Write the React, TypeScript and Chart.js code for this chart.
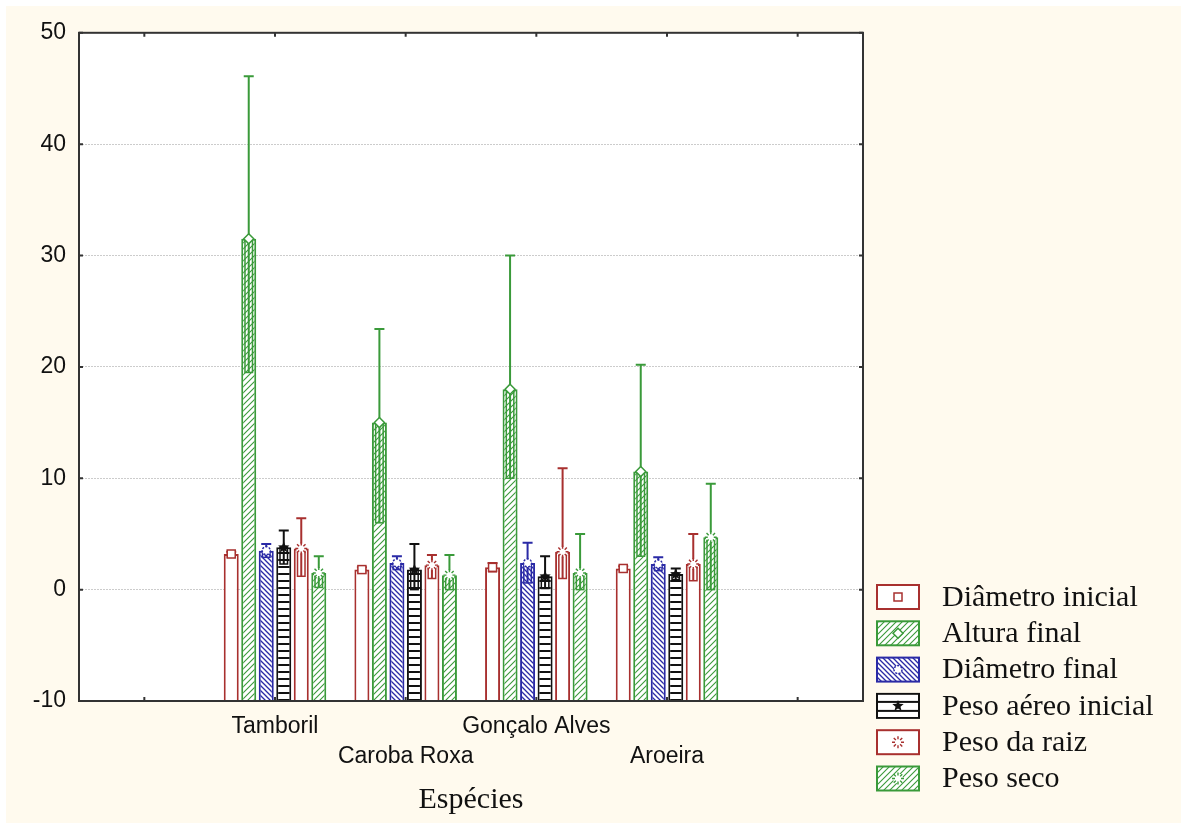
import React, { useEffect, useRef } from "react";
import { Chart, registerables } from "chart.js";

Chart.register(...registerables);

// ---------- data ----------
const categories = ["", "Tamboril", "Caroba Roxa", "Gonçalo Alves", "Aroeira", ""];
const seriesNames = [
  "Diâmetro inicial",
  "Altura final",
  "Diâmetro final",
  "Peso aéreo inicial",
  "Peso da raiz",
  "Peso seco",
];

const diametroInicialMean = [null, 3.2, 1.8, 2.0, 1.9, null];
const diametroInicialHigh = [null, 3.4, 2.0, 2.4, 2.1, null];
const diametroInicialLow = [null, 2.9, 1.5, 1.6, 1.6, null];

const alturaFinalMean = [null, 31.5, 15.0, 18.0, 10.6, null];
const alturaFinalHigh = [null, 46.1, 23.4, 30.0, 20.2, null];
const alturaFinalLow = [null, 19.5, 6.0, 10.0, 3.0, null];

const diametroFinalMean = [null, 3.5, 2.4, 2.4, 2.3, null];
const diametroFinalHigh = [null, 4.1, 3.0, 4.2, 2.9, null];
const diametroFinalLow = [null, 2.9, 1.8, 0.6, 1.7, null];

const pesoAereoMean = [null, 3.8, 1.8, 1.2, 1.4, null];
const pesoAereoHigh = [null, 5.3, 4.1, 3.0, 1.9, null];
const pesoAereoLow = [null, 2.3, 0.0, 0.1, 0.9, null];

const pesoRaizMean = [null, 3.7, 2.2, 3.4, 2.3, null];
const pesoRaizHigh = [null, 6.4, 3.1, 10.9, 5.0, null];
const pesoRaizLow = [null, 1.2, 1.0, 1.0, 0.8, null];

const pesoSecoMean = [null, 1.5, 1.3, 1.5, 4.7, null];
const pesoSecoHigh = [null, 3.0, 3.1, 5.0, 9.5, null];
const pesoSecoLow = [null, 0.2, 0.0, 0.0, 0.0, null];

const yTicks = [-10, 0, 10, 20, 30, 40, 50];
const xTitle = "Espécies";

// ---------- styles ----------
const RED = "#a8302f";
const GREEN = "#3a9a3a";
const BLUE = "#2a2aa6";
const BLACK = "#111111";
const CREAM = "#fffaee";

type Kind = "none" | "slash" | "backslash" | "hlines";
type Mark = "square" | "diamond" | "circle" | "star" | "burst" | "sun";

const seriesStyle: { color: string; fill: Kind; mark: Mark }[] = [
  { color: RED, fill: "none", mark: "square" },
  { color: GREEN, fill: "slash", mark: "diamond" },
  { color: BLUE, fill: "backslash", mark: "circle" },
  { color: BLACK, fill: "hlines", mark: "star" },
  { color: RED, fill: "none", mark: "burst" },
  { color: GREEN, fill: "slash", mark: "sun" },
];

const means = [diametroInicialMean, alturaFinalMean, diametroFinalMean, pesoAereoMean, pesoRaizMean, pesoSecoMean];
const highs = [diametroInicialHigh, alturaFinalHigh, diametroFinalHigh, pesoAereoHigh, pesoRaizHigh, pesoSecoHigh];
const lows = [diametroInicialLow, alturaFinalLow, diametroFinalLow, pesoAereoLow, pesoRaizLow, pesoSecoLow];

function makePattern(kind: Kind, color: string): CanvasPattern | string {
  if (kind === "none") return "#ffffff";
  const c = document.createElement("canvas");
  const ctx = c.getContext("2d")!;
  if (kind === "hlines") {
    c.width = 8;
    c.height = 7;
    ctx.fillStyle = "#ffffff";
    ctx.fillRect(0, 0, 8, 7);
    ctx.fillStyle = color;
    ctx.fillRect(0, 0, 8, 2);
  } else {
    const s = kind === "slash" ? 6 : 5;
    c.width = s;
    c.height = s;
    ctx.fillStyle = "#ffffff";
    ctx.fillRect(0, 0, s, s);
    ctx.strokeStyle = color;
    ctx.lineWidth = kind === "slash" ? 1.1 : 1.3;
    ctx.beginPath();
    if (kind === "slash") {
      ctx.moveTo(-1, s + 1);
      ctx.lineTo(s + 1, -1);
      ctx.moveTo(-1, 1);
      ctx.lineTo(1, -1);
      ctx.moveTo(s - 1, s + 1);
      ctx.lineTo(s + 1, s - 1);
    } else {
      ctx.moveTo(-1, -1);
      ctx.lineTo(s + 1, s + 1);
      ctx.moveTo(s - 1, -1);
      ctx.lineTo(s + 1, 1);
      ctx.moveTo(-1, s - 1);
      ctx.lineTo(1, s + 1);
    }
    ctx.stroke();
  }
  return ctx.createPattern(c, "repeat")!;
}

function drawMarker(ctx: CanvasRenderingContext2D, mark: Mark, x: number, y: number, color: string) {
  ctx.save();
  ctx.lineWidth = 1.5;
  ctx.strokeStyle = color;
  ctx.fillStyle = "#ffffff";
  switch (mark) {
    case "square":
      ctx.fillRect(x - 4, y - 4, 8, 8);
      ctx.strokeRect(x - 4, y - 4, 8, 8);
      break;
    case "diamond":
      ctx.beginPath();
      ctx.moveTo(x, y - 5);
      ctx.lineTo(x + 5, y);
      ctx.lineTo(x, y + 5);
      ctx.lineTo(x - 5, y);
      ctx.closePath();
      ctx.fill();
      ctx.stroke();
      break;
    case "circle":
      ctx.beginPath();
      ctx.arc(x, y, 4, 0, Math.PI * 2);
      ctx.fill();
      ctx.setLineDash([2, 1.5]);
      ctx.stroke();
      break;
    case "star": {
      ctx.fillStyle = color;
      ctx.beginPath();
      for (let k = 0; k < 10; k++) {
        const r = k % 2 === 0 ? 6 : 2.6;
        const a = -Math.PI / 2 + (k * Math.PI) / 5;
        const px = x + r * Math.cos(a);
        const py = y + r * Math.sin(a);
        if (k === 0) ctx.moveTo(px, py);
        else ctx.lineTo(px, py);
      }
      ctx.closePath();
      ctx.fill();
      break;
    }
    case "burst":
    case "sun": {
      ctx.beginPath();
      ctx.arc(x, y, 5, 0, Math.PI * 2);
      ctx.fill();
      ctx.lineWidth = 1.4;
      ctx.beginPath();
      for (let k = 0; k < 8; k++) {
        const a = (k * Math.PI) / 4;
        ctx.moveTo(x + 3 * Math.cos(a), y + 3 * Math.sin(a));
        ctx.lineTo(x + 6 * Math.cos(a), y + 6 * Math.sin(a));
      }
      ctx.stroke();
      break;
    }
  }
  ctx.restore();
}

export default function App() {
  const ref = useRef<HTMLCanvasElement>(null);

  useEffect(() => {
    const canvas = ref.current!;
    const fills = seriesStyle.map((s) => makePattern(s.fill, s.color));

    const bgPlugin = {
      id: "bg",
      beforeDraw(chart: any) {
        const { ctx, chartArea } = chart;
        ctx.save();
        ctx.fillStyle = CREAM;
        ctx.fillRect(0, 0, chart.width, chart.height);
        ctx.fillStyle = "#ffffff";
        ctx.fillRect(chartArea.left, chartArea.top, chartArea.right - chartArea.left, chartArea.bottom - chartArea.top);
        ctx.restore();
      },
    };

    const errPlugin = {
      id: "errbars",
      afterDatasetsDraw(chart: any) {
        const ctx: CanvasRenderingContext2D = chart.ctx;
        const ys = chart.scales.y;
        chart.data.datasets.forEach((_ds: any, i: number) => {
          const meta = chart.getDatasetMeta(i);
          const st = seriesStyle[i];
          meta.data.forEach((el: any, j: number) => {
            const m = means[i][j];
            const hi = highs[i][j];
            const lo = lows[i][j];
            if (m == null || hi == null || lo == null) return;
            const x = el.x;
            const w = el.width;
            const yM = ys.getPixelForValue(m);
            const yH = ys.getPixelForValue(hi);
            const yL = ys.getPixelForValue(lo);
            ctx.save();
            ctx.strokeStyle = st.color;
            ctx.lineWidth = 1.5;
            const bw = w * 0.5;
            ctx.strokeRect(x - bw / 2, yM, bw, yL - yM);
            ctx.lineWidth = 2;
            ctx.beginPath();
            ctx.moveTo(x, yL);
            ctx.lineTo(x, yH);
            ctx.moveTo(x - 5, yH);
            ctx.lineTo(x + 5, yH);
            ctx.stroke();
            ctx.restore();
            drawMarker(ctx, st.mark, x, yM, st.color);
          });
        });
      },
    };

    const framePlugin = {
      id: "frame",
      afterDraw(chart: any) {
        const { ctx, chartArea } = chart;
        const { left, right, top, bottom } = chartArea;
        ctx.save();
        ctx.strokeStyle = "#333333";
        ctx.lineWidth = 2;
        ctx.strokeRect(left, top, right - left, bottom - top);
        ctx.beginPath();
        const xs = chart.scales.x;
        categories.forEach((_c, k) => {
          const px = xs.getPixelForValue(k);
          ctx.moveTo(px, bottom);
          ctx.lineTo(px, bottom - 4);
          ctx.moveTo(px, top);
          ctx.lineTo(px, top + 4);
        });
        const ysc = chart.scales.y;
        yTicks.forEach((v) => {
          const py = ysc.getPixelForValue(v);
          ctx.moveTo(left, py);
          ctx.lineTo(left + 4, py);
          ctx.moveTo(right, py);
          ctx.lineTo(right - 4, py);
        });
        ctx.stroke();
        ctx.restore();
      },
    };

    const legendPlugin = {
      id: "customLegend",
      afterDraw(chart: any) {
        const ctx: CanvasRenderingContext2D = chart.ctx;
        const boxX = chart.chartArea.right + 14;
        const textX = boxX + 65;
        const y0 = 591;
        const step = 36.3;
        ctx.save();
        seriesNames.forEach((name, i) => {
          const st = seriesStyle[i];
          const cy = y0 + i * step;
          ctx.fillStyle = fills[i] as any;
          ctx.fillRect(boxX, cy - 12, 42, 24);
          ctx.strokeStyle = st.color;
          ctx.lineWidth = 2;
          ctx.strokeRect(boxX, cy - 12, 42, 24);
          if (st.fill === "hlines") {
            ctx.fillStyle = "#ffffff";
            ctx.fillRect(boxX + 1, cy - 11, 40, 22);
            ctx.fillStyle = st.color;
            ctx.fillRect(boxX, cy - 5, 42, 2);
            ctx.fillRect(boxX, cy + 4, 42, 2);
          }
          drawMarker(ctx, st.mark, boxX + 21, cy, st.color);
          ctx.fillStyle = "#111111";
          ctx.font = '30px "Liberation Serif", "Times New Roman", serif';
          ctx.textBaseline = "middle";
          ctx.textAlign = "left";
          ctx.fillText(name, textX, cy + 1);
        });
        ctx.restore();
      },
    };

    const chart = new Chart(canvas, {
      type: "bar",
      data: {
        labels: categories,
        datasets: seriesNames.map((name, i) => ({
          label: name,
          data: means[i] as any,
          base: -10,
          backgroundColor: fills[i] as any,
          borderColor: seriesStyle[i].color,
          borderWidth: 2,
          borderSkipped: "start",
          categoryPercentage: 0.804,
          barPercentage: 0.857,
        })),
      },
      options: {
        responsive: false,
        animation: false,
        devicePixelRatio: 1,
        layout: { padding: { left: 0, top: 23, right: 318, bottom: 0 } },
        plugins: {
          legend: { display: false },
          tooltip: { enabled: false },
        },
        scales: {
          x: {
            grid: { display: false, drawTicks: false },
            border: { display: false },
            ticks: {
              autoSkip: false,
              maxRotation: 0,
              minRotation: 0,
              padding: 11,
              color: "#111111",
              font: { family: '"Liberation Sans", Arial, sans-serif', size: 23, lineHeight: 1.3 },
              callback: (_v: any, i: number) => (i % 2 === 1 ? [categories[i]] : ["", categories[i]]),
            },
            title: {
              display: true,
              text: xTitle,
              color: "#111111",
              font: { family: '"Liberation Serif", "Times New Roman", serif', size: 30, lineHeight: 1.2 },
              padding: { top: 0, bottom: 5 },
            },
            afterFit: (s: any) => {
              s.height = 122;
            },
          },
          y: {
            min: -10,
            max: 50,
            ticks: {
              stepSize: 10,
              padding: 13,
              color: "#111111",
              font: { family: '"Liberation Sans", Arial, sans-serif', size: 23 },
            },
            grid: { color: "#cccccc", lineWidth: 1, drawTicks: false },
            border: { display: false, dash: [2, 1] },
            afterFit: (s: any) => {
              s.width = 73;
            },
          },
        },
      },
      plugins: [bgPlugin, errPlugin, framePlugin, legendPlugin],
    } as any);

    return () => chart.destroy();
  }, []);

  return (
    <div style={{ position: "absolute", left: 6, top: 6, width: 1175, height: 817, background: CREAM }}>
      <canvas ref={ref} width={1175} height={817} style={{ display: "block", width: 1175, height: 817 }} />
    </div>
  );
}
